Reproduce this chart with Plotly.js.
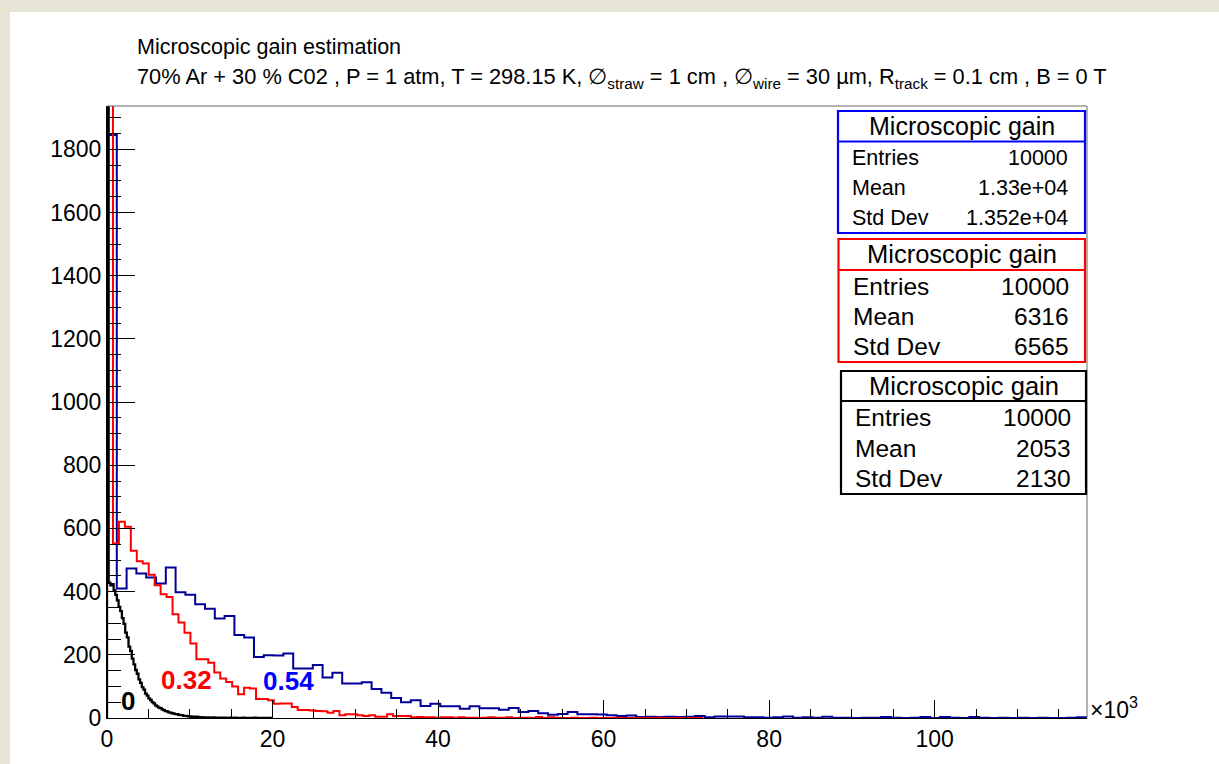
<!DOCTYPE html>
<html>
<head>
<meta charset="utf-8">
<script src="https://cdn.plot.ly/plotly-3.0.1.min.js"></script>
<style>
  html, body { margin: 0; padding: 0; background: #e6e4d4; width: 1219px; height: 764px; overflow: hidden; }
  #chart { position: absolute; left: 10px; top: 12px; width: 1209px; height: 752px; }
</style>
</head>
<body>
<div id="chart"></div>
<script>
// ---------------- data (gain in units of 10^3) ----------------
const blueBinWidth = 1.184;
const redBinWidth = 0.72;
const blackBinWidth = 0.2;

const blueCounts = [
  1845, 410, 473, 457, 445, 426, 476, 398, 390, 360,
  346, 315, 323, 263, 255, 193, 199, 198, 204, 157,
  157, 168, 128, 143, 109, 109, 113, 92, 80, 63,
  50, 56, 38, 45, 37, 37, 29, 37, 31, 31,
  26, 32, 19, 22, 15, 10, 13, 19, 12, 12,
  11, 9, 6, 8, 3, 4, 3, 4, 3, 4,
  6, 2, 5, 5, 5, 2, 2, 1, 2, 5,
  1, 2, 1, 4, 1, 1, 0, 1, 1, 3,
  1, 0, 1, 3, 0, 3, 1, 0, 3, 1,
  0, 1, 0, 1, 0, 1, 0, 0, 1, 2
];

const redCounts = [
  2180, 552, 621, 605, 529, 496, 489, 453, 420, 392,
  383, 328, 302, 270, 236, 186, 186, 175, 144, 125,
  114, 100, 75, 96, 93, 60, 60, 56, 45, 46,
  46, 35, 25, 25, 24, 22, 21, 17, 22, 9,
  12, 12, 9, 6, 9, 4, 4, 12, 6, 6,
  6, 2, 3, 2, 2, 1, 2, 2, 1, 2,
  1, 1, 0, 1, 2, 1, 1, 2, 0, 1,
  1, 0, 3, 0, 2, 1, 0, 0, 1, 0,
  0, 1, 0, 0, 0, 1, 0, 0, 0, 0,
  0, 0, 1, 0, 0, 0, 0, 0, 0, 0
];

const blackCounts = [
  2600, 428, 420, 424, 405, 390, 372, 352, 338, 316,
  298, 270, 255, 226, 212, 188, 170, 152, 140, 122,
  111, 98, 90, 77, 71, 62, 57, 50, 46, 40,
  37, 33, 31, 27, 25, 22, 21, 18, 17, 15,
  14, 12, 12, 10, 9, 9, 7, 7, 6, 5,
  5, 4, 4, 3, 4, 3, 2, 3, 2, 2,
  1, 2, 1, 1, 2, 1, 1, 0, 1, 1,
  0, 1, 0, 0, 1, 0, 0, 1, 0, 0,
  0, 0, 1, 0, 0, 0, 0, 0, 0, 1,
  0, 0, 0, 0, 0, 0, 0, 0, 0, 0
];

const statTitle = "Microscopic gain";
const statLabels = ["Entries", "Mean", "Std Dev"];
const statBlue = ["10000", "1.33e+04", "1.352e+04"];
const statRed = ["10000", "6316", "6565"];
const statBlack = ["10000", "2053", "2130"];

const curveLabels = ["0", "0.32", "0.54"];

const xTickLabels = ["0", "20", "40", "60", "80", "100"];
const yTickLabels = ["0", "200", "400", "600", "800", "1000", "1200", "1400", "1600", "1800"];

// ---------------- helpers ----------------
function stepTrace(counts, width, color, lw) {
  const xs = [0], ys = [0];
  for (let i = 0; i < counts.length; i++) { xs.push(i * width); ys.push(counts[i]); }
  xs.push(counts.length * width); ys.push(0);
  return { type: 'scatter', mode: 'lines', x: xs, y: ys,
    line: { shape: 'hv', color: color, width: lw }, hoverinfo: 'skip', showlegend: false };
}

// plot-area pixel box on the page
const PL = 107, PR = 1087, PT = 106, PB = 718;
const px = v => (v - PL) / (PR - PL);
const py = v => (PB - v) / (PB - PT);

const FONT = 'Liberation Sans, Arial, Helvetica, sans-serif';

const traces = [
  stepTrace(blueCounts, blueBinWidth, '#000099', 2),
  stepTrace(redCounts, redBinWidth, '#ff0000', 2),
  stepTrace(blackCounts, blackBinWidth, '#000000', 2.3)
];

const shapes = [];
const annotations = [];

// frame top + right
shapes.push({ type: 'line', xref: 'paper', yref: 'paper', x0: 0, x1: 1, y0: 1, y1: 1, line: { color: '#666', width: 1 } });
shapes.push({ type: 'line', xref: 'paper', yref: 'paper', x0: 1, x1: 1, y0: 0, y1: 1, line: { color: '#666', width: 1 } });

// stat boxes
const boxes = [
  { vals: statBlue, color: '#0000ff', x0: 838, x1: 1085, y0: 111, y1: 233, div: 141.5,
    head: 126, rows: [157.5, 188.3, 217.7], lx: 850, rx: 1070, hs: 25, rs: 21.5 },
  { vals: statRed, color: '#ff0000', x0: 838.5, x1: 1085, y0: 239, y1: 362, div: 270,
    head: 253.5, rows: [286.3, 316.7, 346.7], lx: 851, rx: 1071, hs: 25.5, rs: 24.5 },
  { vals: statBlack, color: '#000000', x0: 841, x1: 1086, y0: 371, y1: 494, div: 401,
    head: 386, rows: [417.3, 448, 478], lx: 853, rx: 1073, hs: 25.5, rs: 24.5 }
];
boxes.forEach(b => {
  shapes.push({ type: 'rect', xref: 'paper', yref: 'paper', x0: px(b.x0), x1: px(b.x1), y0: py(b.y1), y1: py(b.y0),
    fillcolor: '#ffffff', line: { color: b.color, width: 2.2 }, layer: 'above' });
  shapes.push({ type: 'line', xref: 'paper', yref: 'paper', x0: px(b.x0), x1: px(b.x1), y0: py(b.div), y1: py(b.div),
    line: { color: b.color, width: 2.2 }, layer: 'above' });
  annotations.push({ xref: 'paper', yref: 'paper', x: px((b.x0 + b.x1) / 2), y: py(b.head), text: statTitle,
    showarrow: false, xanchor: 'center', yanchor: 'middle', font: { family: FONT, size: b.hs, color: '#000' } });
  statLabels.forEach((lab, i) => {
    annotations.push({ xref: 'paper', yref: 'paper', x: px(b.lx), y: py(b.rows[i]), text: lab,
      showarrow: false, xanchor: 'left', yanchor: 'middle', font: { family: FONT, size: b.rs, color: '#000' } });
    annotations.push({ xref: 'paper', yref: 'paper', x: px(b.rx), y: py(b.rows[i]), text: b.vals[i],
      showarrow: false, xanchor: 'right', yanchor: 'middle', font: { family: FONT, size: b.rs, color: '#000' } });
  });
});

// curve labels
const labelPos = [[128.3, 701, '#000000'], [186, 680, '#ff0000'], [288.3, 681, '#0000ff']];
curveLabels.forEach((t, i) => {
  annotations.push({ xref: 'paper', yref: 'paper', x: px(labelPos[i][0]), y: py(labelPos[i][1]), text: '<b>' + t + '</b>',
    showarrow: false, xanchor: 'center', yanchor: 'middle', font: { family: FONT, size: 26, color: labelPos[i][2] } });
});

// titles
annotations.push({ xref: 'paper', yref: 'paper', x: px(135), y: py(47), text: 'Microscopic gain estimation',
  showarrow: false, xanchor: 'left', yanchor: 'middle', font: { family: FONT, size: 21.5, color: '#000' } });
annotations.push({ xref: 'paper', yref: 'paper', x: px(135), y: py(78),
  text: '70% Ar + 30 % C02 , P = 1 atm, T = 298.15 K, \u2205<sub>straw</sub> = 1 cm , \u2205<sub>wire</sub> = 30 \u00b5m, R<sub>track</sub> = 0.1 cm , B = 0 T',
  showarrow: false, xanchor: 'left', yanchor: 'middle', font: { family: FONT, size: 21.8, color: '#000' } });

// x10^3
annotations.push({ xref: 'paper', yref: 'paper', x: px(1088), y: py(708), text: '\u00d710<sup>3</sup>',
  showarrow: false, xanchor: 'left', yanchor: 'middle', font: { family: FONT, size: 23, color: '#000' } });

const layout = {
  width: 1209, height: 752,
  margin: { l: PL - 10, r: 1219 - PR, t: PT - 12, b: 764 - PB },
  paper_bgcolor: '#ffffff', plot_bgcolor: '#ffffff',
  showlegend: false,
  xaxis: {
    range: [0, 118.4], tickmode: 'array', tickvals: xTickLabels.map(Number), ticktext: xTickLabels,
    ticks: 'inside', ticklen: 18, tickwidth: 1, tickcolor: '#000',
    minor: { dtick: 5, tick0: 0, ticks: 'inside', ticklen: 9, tickcolor: '#000', tickwidth: 1, showgrid: false },
    showline: true, linecolor: '#000', linewidth: 1, showgrid: false, zeroline: false,
    tickfont: { family: FONT, size: 23, color: '#000' }, fixedrange: true
  },
  yaxis: {
    range: [0, 1937], tickmode: 'array', tickvals: yTickLabels.map(Number), ticktext: yTickLabels,
    ticks: 'inside', ticklen: 28, tickwidth: 1, tickcolor: '#000',
    minor: { dtick: 50, tick0: 0, ticks: 'inside', ticklen: 14, tickcolor: '#000', tickwidth: 1, showgrid: false },
    showline: true, linecolor: '#000', linewidth: 1, showgrid: false, zeroline: false,
    tickfont: { family: FONT, size: 23, color: '#000' }, fixedrange: true
  },
  shapes: shapes,
  annotations: annotations
};

Plotly.newPlot('chart', traces, layout, { displayModeBar: false, staticPlot: true });
</script>
</body>
</html>
